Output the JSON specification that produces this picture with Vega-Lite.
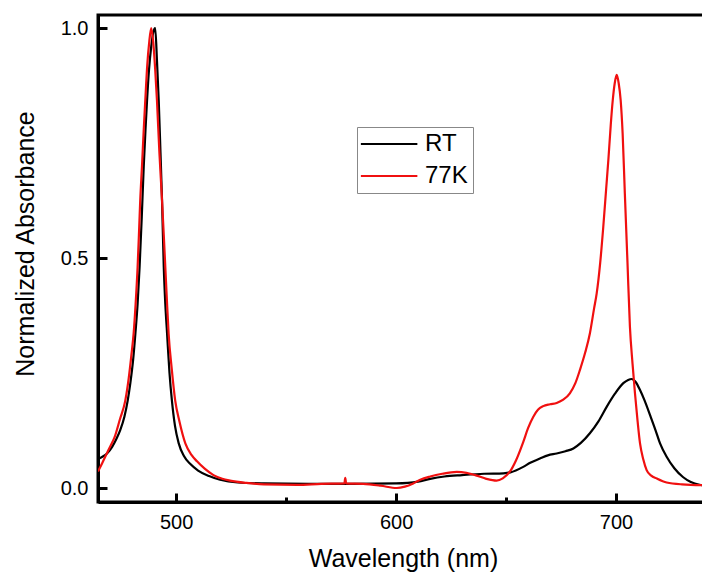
{
  "$schema": "https://vega.github.io/schema/vega-lite/v6.json",
  "autosize": "none",
  "padding": {"left": 98, "top": 15, "right": 0, "bottom": 74},
  "width": 610,
  "height": 487,
  "background": "white",
  "config": {
    "view": {"stroke": "black", "strokeWidth": 3},
    "font": "Liberation Sans",
    "axis": {"grid": false, "domainColor": "black", "domainWidth": 3, "tickColor": "black", "tickWidth": 3, "labelColor": "black", "titleColor": "black", "labelFont": "Liberation Sans", "titleFont": "Liberation Sans", "titleFontWeight": "normal"}
  },
  "data": {"values": [
    {"s":"RT","w":464.5,"a":0.063},{"s":"RT","w":466.5,"a":0.068},{"s":"RT","w":468.6,"a":0.075},{"s":"RT","w":471,"a":0.09},{"s":"RT","w":473,"a":0.108},{"s":"RT","w":474.6,"a":0.126},{"s":"RT","w":476.5,"a":0.155},{"s":"RT","w":478,"a":0.19},{"s":"RT","w":479.2,"a":0.228},{"s":"RT","w":480.5,"a":0.28},{"s":"RT","w":481.5,"a":0.336},{"s":"RT","w":482.5,"a":0.4},{"s":"RT","w":483.4,"a":0.48},{"s":"RT","w":484.4,"a":0.59},{"s":"RT","w":485.3,"a":0.7},{"s":"RT","w":486.1,"a":0.78},{"s":"RT","w":486.8,"a":0.843},{"s":"RT","w":487.7,"a":0.91},{"s":"RT","w":488.7,"a":0.96},{"s":"RT","w":489.6,"a":0.99},{"s":"RT","w":490.5,"a":1.0},{"s":"RT","w":491.3,"a":0.93},{"s":"RT","w":492.1,"a":0.843},{"s":"RT","w":492.9,"a":0.73},{"s":"RT","w":493.6,"a":0.626},{"s":"RT","w":494.4,"a":0.48},{"s":"RT","w":495.1,"a":0.4},{"s":"RT","w":495.9,"a":0.336},{"s":"RT","w":497,"a":0.25},{"s":"RT","w":498.1,"a":0.19},{"s":"RT","w":499.5,"a":0.135},{"s":"RT","w":501.2,"a":0.097},{"s":"RT","w":503.5,"a":0.07},{"s":"RT","w":506.5,"a":0.052},{"s":"RT","w":510,"a":0.038},{"s":"RT","w":515,"a":0.026},{"s":"RT","w":520,"a":0.018},{"s":"RT","w":528,"a":0.012},{"s":"RT","w":540,"a":0.01},{"s":"RT","w":560,"a":0.009},{"s":"RT","w":580,"a":0.009},{"s":"RT","w":600,"a":0.01},{"s":"RT","w":610,"a":0.014},{"s":"RT","w":615.5,"a":0.02},{"s":"RT","w":622,"a":0.025},{"s":"RT","w":630,"a":0.028},{"s":"RT","w":640,"a":0.031},{"s":"RT","w":648.8,"a":0.032},{"s":"RT","w":652,"a":0.034},{"s":"RT","w":657.8,"a":0.046},{"s":"RT","w":661,"a":0.055},{"s":"RT","w":665.4,"a":0.064},{"s":"RT","w":669,"a":0.071},{"s":"RT","w":673,"a":0.075},{"s":"RT","w":677,"a":0.08},{"s":"RT","w":680.6,"a":0.086},{"s":"RT","w":684,"a":0.098},{"s":"RT","w":688.1,"a":0.119},{"s":"RT","w":692,"a":0.145},{"s":"RT","w":695.8,"a":0.177},{"s":"RT","w":699.5,"a":0.205},{"s":"RT","w":703.3,"a":0.228},{"s":"RT","w":705.5,"a":0.235},{"s":"RT","w":707.1,"a":0.237},{"s":"RT","w":709,"a":0.23},{"s":"RT","w":710.9,"a":0.213},{"s":"RT","w":713,"a":0.19},{"s":"RT","w":715.5,"a":0.158},{"s":"RT","w":718,"a":0.125},{"s":"RT","w":720,"a":0.097},{"s":"RT","w":723,"a":0.068},{"s":"RT","w":726.5,"a":0.043},{"s":"RT","w":730.4,"a":0.024},{"s":"RT","w":734,"a":0.013},{"s":"RT","w":738,"a":0.007},{"s":"RT","w":742,"a":0.005},
    {"s":"77K","w":464.5,"a":0.036},{"s":"77K","w":466.5,"a":0.055},{"s":"77K","w":468.5,"a":0.075},{"s":"77K","w":470,"a":0.09},{"s":"77K","w":472,"a":0.11},{"s":"77K","w":474.5,"a":0.15},{"s":"77K","w":476.9,"a":0.19},{"s":"77K","w":478.5,"a":0.24},{"s":"77K","w":479.7,"a":0.29},{"s":"77K","w":480.7,"a":0.336},{"s":"77K","w":481.6,"a":0.4},{"s":"77K","w":482.5,"a":0.48},{"s":"77K","w":483.1,"a":0.55},{"s":"77K","w":483.7,"a":0.626},{"s":"77K","w":484.5,"a":0.7},{"s":"77K","w":485.3,"a":0.78},{"s":"77K","w":486,"a":0.843},{"s":"77K","w":486.9,"a":0.92},{"s":"77K","w":487.8,"a":0.97},{"s":"77K","w":488.7,"a":1.0},{"s":"77K","w":489.6,"a":0.97},{"s":"77K","w":490.5,"a":0.91},{"s":"77K","w":491.3,"a":0.843},{"s":"77K","w":492.4,"a":0.73},{"s":"77K","w":493.6,"a":0.626},{"s":"77K","w":494.4,"a":0.55},{"s":"77K","w":495.1,"a":0.48},{"s":"77K","w":495.8,"a":0.41},{"s":"77K","w":496.6,"a":0.336},{"s":"77K","w":498,"a":0.26},{"s":"77K","w":499.6,"a":0.19},{"s":"77K","w":501.5,"a":0.145},{"s":"77K","w":504.2,"a":0.097},{"s":"77K","w":507,"a":0.072},{"s":"77K","w":509.5,"a":0.058},{"s":"77K","w":513,"a":0.042},{"s":"77K","w":517,"a":0.028},{"s":"77K","w":521,"a":0.02},{"s":"77K","w":524.5,"a":0.016},{"s":"77K","w":532,"a":0.011},{"s":"77K","w":540,"a":0.008},{"s":"77K","w":555,"a":0.007},{"s":"77K","w":566,"a":0.009},{"s":"77K","w":576.5,"a":0.01},{"s":"77K","w":576.9,"a":0.022},{"s":"77K","w":577.3,"a":0.01},{"s":"77K","w":585,"a":0.009},{"s":"77K","w":593,"a":0.005},{"s":"77K","w":600.3,"a":0.0},{"s":"77K","w":604,"a":0.003},{"s":"77K","w":607.8,"a":0.01},{"s":"77K","w":611,"a":0.018},{"s":"77K","w":615.5,"a":0.025},{"s":"77K","w":621,"a":0.031},{"s":"77K","w":627.6,"a":0.035},{"s":"77K","w":632,"a":0.033},{"s":"77K","w":636.7,"a":0.027},{"s":"77K","w":641,"a":0.02},{"s":"77K","w":645.7,"a":0.016},{"s":"77K","w":648.5,"a":0.021},{"s":"77K","w":651.8,"a":0.036},{"s":"77K","w":654.5,"a":0.06},{"s":"77K","w":657.8,"a":0.1},{"s":"77K","w":660,"a":0.13},{"s":"77K","w":662.4,"a":0.155},{"s":"77K","w":664.5,"a":0.17},{"s":"77K","w":666.9,"a":0.178},{"s":"77K","w":670,"a":0.182},{"s":"77K","w":673,"a":0.185},{"s":"77K","w":676,"a":0.192},{"s":"77K","w":679,"a":0.206},{"s":"77K","w":681.5,"a":0.228},{"s":"77K","w":683.6,"a":0.257},{"s":"77K","w":686,"a":0.295},{"s":"77K","w":688.1,"a":0.336},{"s":"77K","w":690,"a":0.39},{"s":"77K","w":691.2,"a":0.423},{"s":"77K","w":692.8,"a":0.49},{"s":"77K","w":694.2,"a":0.568},{"s":"77K","w":695.5,"a":0.65},{"s":"77K","w":696.5,"a":0.713},{"s":"77K","w":697.6,"a":0.79},{"s":"77K","w":698.5,"a":0.843},{"s":"77K","w":699.4,"a":0.88},{"s":"77K","w":700.3,"a":0.898},{"s":"77K","w":701.2,"a":0.88},{"s":"77K","w":702.1,"a":0.843},{"s":"77K","w":703,"a":0.77},{"s":"77K","w":704,"a":0.64},{"s":"77K","w":705.2,"a":0.49},{"s":"77K","w":706.3,"a":0.351},{"s":"77K","w":707.5,"a":0.27},{"s":"77K","w":708.6,"a":0.206},{"s":"77K","w":709.8,"a":0.145},{"s":"77K","w":710.9,"a":0.097},{"s":"77K","w":712.4,"a":0.062},{"s":"77K","w":713.9,"a":0.039},{"s":"77K","w":716,"a":0.027},{"s":"77K","w":718.4,"a":0.021},{"s":"77K","w":723,"a":0.012},{"s":"77K","w":730,"a":0.008},{"s":"77K","w":742,"a":0.006}
  ]},
  "mark": {"type": "line", "clip": true, "interpolate": "monotone", "strokeWidth": 2.2},
  "encoding": {
    "x": {
      "field": "w", "type": "quantitative",
      "scale": {"domain": [464.5, 741.8], "nice": false, "zero": false},
      "axis": {
        "title": "Wavelength (nm)", "titleFontSize": 25, "titlePadding": 14,
        "values": [500, 550, 600, 650, 700],
        "labelExpr": "datum.value % 100 === 0 ? datum.label : ''",
        "labelFontSize": 20, "labelPadding": 19,
        "tickSize": {"condition": {"test": "datum.value % 100 === 0", "value": -9}, "value": -5},
        "format": "d"
      }
    },
    "y": {
      "field": "a", "type": "quantitative",
      "scale": {"domain": [-0.0304, 1.0283], "nice": false, "zero": false},
      "axis": {
        "title": "Normalized Absorbance", "titleFontSize": 25,
        "titleX": -73, "titleY": 228.5, "titleBaseline": "middle",
        "values": [0, 0.5, 1], "format": ".1f",
        "labelFontSize": 20, "labelPadding": 19,
        "tickSize": {"condition": {"test": "datum.value >= 0", "value": -9}, "value": -9}
      }
    },
    "color": {
      "field": "s", "type": "nominal", "sort": ["RT", "77K"],
      "scale": {"domain": ["RT", "77K"], "range": ["#000000", "#f01010"]},
      "legend": {
        "title": null, "orient": "none", "legendX": 259, "legendY": 112,
        "strokeColor": "#888888", "fillColor": "white", "padding": 5,
        "symbolType": "M-1.25,0H4.13", "symbolSize": 441, "symbolStrokeWidth": 2.2,
        "labelFontSize": 24, "labelFont": "Liberation Sans", "labelColor": "black",
        "rowPadding": 8, "labelOffset": 39
      }
    }
  }
}
